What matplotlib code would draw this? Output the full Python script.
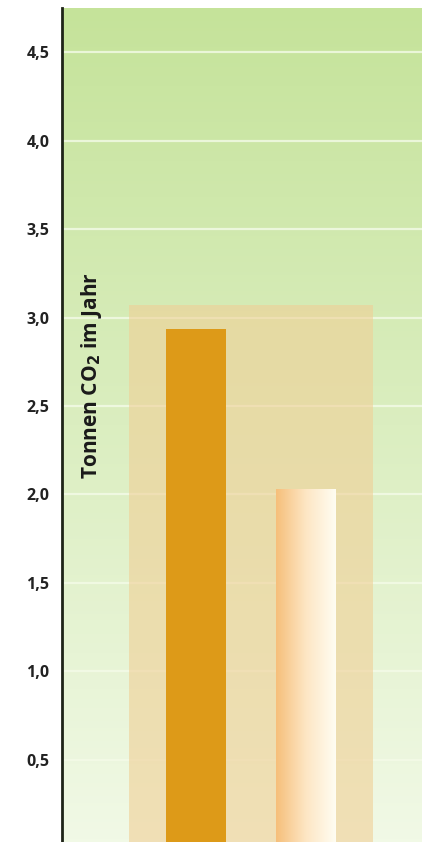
import numpy as np
import matplotlib.pyplot as plt
from matplotlib.colors import LinearSegmentedColormap

# Werte (Tonnen CO2 im Jahr)
kategorien = ['A', 'B']
werte = [2.935, 2.03]
rahmen_wert = 3.07
ticks = [0.5, 1.0, 1.5, 2.0, 2.5, 3.0, 3.5, 4.0, 4.5]
tick_labels = ['0,5', '1,0', '1,5', '2,0', '2,5', '3,0', '3,5', '4,0', '4,5']

plt.rcParams['font.family'] = ['Open Sans', 'DejaVu Sans']

fig = plt.figure(figsize=(4.22, 8.42), dpi=100)
ax = fig.add_axes([62 / 422, 0, 360 / 422, 834 / 842])

xmin, xmax = -1.218, 2.055
ymin, ymax = 0.035, 4.75
ax.set_xlim(xmin, xmax)
ax.set_ylim(ymin, ymax)

# gruener Verlauf im Hintergrund
gruen = LinearSegmentedColormap.from_list('gruen', ['#f1f9e6', '#c5e39a'])
verlauf = np.linspace(0, 1, 256).reshape(-1, 1)
ax.imshow(verlauf, cmap=gruen, aspect='auto', origin='lower',
          extent=[xmin, xmax, ymin, ymax], zorder=0)

# Gitterlinien
for t in ticks:
    ax.axhline(t, color='#f4fbe8', lw=1.6, alpha=0.8, zorder=1)

# Rahmenflaeche hinter den Balken
ax.bar(0.5, rahmen_wert - ymin, bottom=ymin, width=2.21, color='#f0cf96',
       alpha=0.6, zorder=2)

pos = np.arange(len(kategorien))
breite = 0.545

# Balken 1: voll orange
ax.bar(pos[0], werte[0], width=breite, color='#dd9a18', zorder=3)

# Balken 2: horizontaler Verlauf
balken = ax.bar(pos[1], werte[1], width=breite, color='none', zorder=3)[0]
orange = LinearSegmentedColormap.from_list('orange', ['#f6bf7a', '#fde6c4', '#fffdf2'])
hverlauf = np.linspace(0, 1, 256).reshape(1, -1)
img = ax.imshow(hverlauf, cmap=orange, aspect='auto',
                extent=[pos[1] - breite / 2, pos[1] + breite / 2, 0, werte[1]],
                zorder=3)
img.set_clip_path(balken)
ax.set_xlim(xmin, xmax)
ax.set_ylim(ymin, ymax)

# Achsen
for s in ['top', 'right', 'bottom']:
    ax.spines[s].set_visible(False)
ax.spines['left'].set_color('#1e2418')
ax.spines['left'].set_linewidth(2)
ax.spines['left'].set_zorder(5)
ax.set_xticks([])
ax.set_yticks(ticks)
ax.set_yticklabels(tick_labels, fontsize=11.5, fontweight='bold', color='#222222')
ax.tick_params(axis='y', length=0, pad=9)

ax.text(-0.954, 2.67, 'Tonnen CO$_\\mathbf{2}$ im Jahr', rotation=90, fontsize=15,
        fontweight='bold', color='#1a1a1a', ha='center', va='center', zorder=6)

fig.savefig('out.png', dpi=100)
